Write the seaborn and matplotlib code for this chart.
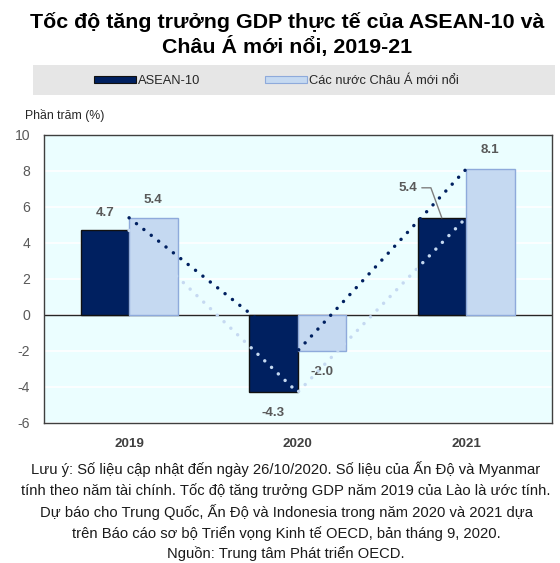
import matplotlib
matplotlib.use("Agg")
import matplotlib.pyplot as plt
from matplotlib import font_manager
from matplotlib.patches import Patch, Rectangle
import seaborn as sns
import pandas as pd

# ---- data ----
years = ["2019", "2020", "2021"]
series_names = ["ASEAN-10", "Các nước Châu Á mới nổi"]
asean = [4.7, -4.3, 5.4]
emerging = [5.4, -2.0, 8.1]
yticks = [-6, -4, -2, 0, 2, 4, 6, 8, 10]

title = "Tốc độ tăng trưởng GDP thực tế của ASEAN-10 và\nChâu Á mới nổi, 2019-21"
ylabel = "Phần trăm (%)"
note = ("Lưu ý: Số liệu cập nhật đến ngày 26/10/2020. Số liệu của Ấn Độ và Myanmar\n"
        "tính theo năm tài chính. Tốc độ tăng trưởng GDP năm 2019 của Lào là ước tính.\n"
        "Dự báo cho Trung Quốc, Ấn Độ và Indonesia trong năm 2020 và 2021 dựa\n"
        "trên Báo cáo sơ bộ Triển vọng Kinh tế OECD, bản tháng 9, 2020.\n"
        "Nguồn: Trung tâm Phát triển OECD.")

# ---- style ----
DARK = "#002060"
LIGHT = "#C5D9F1"
LIGHT_EDGE = "#8EAADB"
BG = "#EBFEFF"
GRAY_TXT = "#595959"

sns.set_theme(style="white")
names = {f.name for f in font_manager.fontManager.ttflist}
NARROW = "Liberation Sans Narrow" in names
BASE = ["Liberation Sans", "DejaVu Sans"]
NAR = (["Liberation Sans Narrow"] if NARROW else []) + BASE
plt.rcParams["font.family"] = BASE
nscale = 1.0 if NARROW else 0.84

fig = plt.figure(figsize=(5.6, 5.63), dpi=100)
ax = fig.add_axes([44/560, 1-423/563, 508/560, 288/563])
ax.set_facecolor(BG)

df = pd.DataFrame({
    "Năm": years * 2,
    "Giá trị": asean + emerging,
    "Nhóm": [series_names[0]] * 3 + [series_names[1]] * 3,
})
sns.barplot(data=df, x="Năm", y="Giá trị", hue="Nhóm", hue_order=series_names,
            palette=[DARK, LIGHT], width=0.576, gap=0, ax=ax, legend=False,
            saturation=1, zorder=2)
for cont, ec in zip(ax.containers, ["#111111", LIGHT_EDGE]):
    for p in cont:
        p.set_edgecolor(ec)
        p.set_linewidth(1.0)

xs = list(range(len(years)))
# dotted connector lines (colors swapped, as in the source)
ax.plot(xs, emerging, color=DARK, lw=2.5, linestyle=(0, (0.01, 2.7)),
        dash_capstyle="round", zorder=4)
ax.plot(xs, asean, color=LIGHT, lw=2.5, linestyle=(0, (0.01, 2.7)),
        dash_capstyle="round", zorder=4)

ax.axhline(0, color="#262626", lw=1.0, zorder=1.5)

ax.set_xlim(-0.505, 2.51)
ax.set_ylim(-6, 10)
ax.set_yticks(yticks)
ax.set_yticklabels([str(v) for v in yticks])
ax.yaxis.grid(True, color="white", lw=1.2)
ax.set_axisbelow(True)
ax.set_xlabel("")
ax.set_ylabel("")
ax.tick_params(axis="y", length=0, pad=10, labelsize=12 * nscale, labelcolor=GRAY_TXT)
ax.tick_params(axis="x", length=0, pad=11, labelsize=11.5 * nscale, labelcolor="#404040")
for lab in ax.get_yticklabels():
    lab.set_family(NAR)
for lab in ax.get_xticklabels():
    lab.set_family(NAR)
    lab.set_fontweight("bold")
for s in ax.spines.values():
    s.set_visible(True)
    s.set_color("#3F3F3F")
    s.set_linewidth(1.0)

# value labels
hw = 0.144
lab_kw = dict(textcoords="offset points", ha="center", va="center",
              fontsize=11.5 * nscale, fontweight="bold", color=GRAY_TXT, family=NAR)
offs_a = [(0, 12.2), (0, -15), None]
offs_e = [(0, 13), (0, -15), (0, 13.7)]
for i in range(3):
    if offs_a[i] is not None:
        ax.annotate(f"{asean[i]:.1f}", (i - hw, asean[i]), xytext=offs_a[i], **lab_kw)
    ax.annotate(f"{emerging[i]:.1f}", (i + hw, emerging[i]), xytext=offs_e[i], **lab_kw)
ax.annotate(f"{asean[2]:.1f}", (2 - hw, asean[2]), xytext=(-24.5, 21.6),
            arrowprops=dict(arrowstyle="-", color="#7F7F7F", lw=1.0,
                            connectionstyle="angle,angleA=0,angleB=110,rad=0",
                            shrinkA=1, shrinkB=0, relpos=(1.0, 0.5)),
            **lab_kw)

# title
fig.text(287.5/560, 1 - 12/563, title, ha="center", va="top", fontsize=15.4,
         fontweight="bold", color="black", linespacing=1.25)

# legend band
fig.add_artist(Rectangle((33/560, 1 - 95/563), 522/560, 30/563,
                         transform=fig.transFigure, facecolor="#E6E6E6",
                         edgecolor="none", zorder=0))
handles = [Patch(facecolor=DARK, edgecolor="#111111", lw=0.8),
           Patch(facecolor=LIGHT, edgecolor=LIGHT_EDGE, lw=0.8)]
fig.legend(handles, series_names, ncol=2, loc="center left",
           bbox_to_anchor=(94/560, 1 - 81/563), frameon=False, borderpad=0,
           borderaxespad=0, handlelength=3.3, handleheight=0.55,
           handletextpad=0.15, columnspacing=5.0,
           prop=dict(family=NAR, size=11 * nscale), labelcolor="#262626")

# y-axis label
fig.text(25/560, 1 - 116/563, ylabel, ha="left", va="center",
         fontsize=10.5 * nscale, color="#262626", family=NAR)

# footnote
fig.text(286/560, 1 - 461/563, note, ha="center", va="top", fontsize=10.6,
         color="#1a1a1a", linespacing=1.48)

fig.savefig("out.png", dpi=100)
